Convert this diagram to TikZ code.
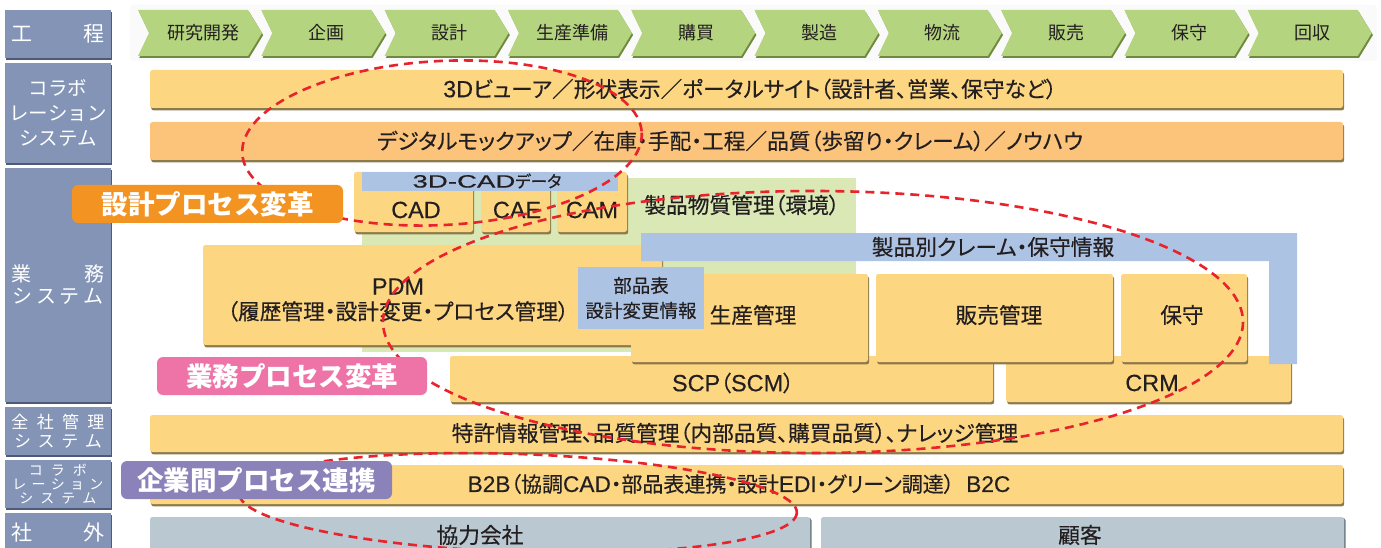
\documentclass[tikz,border=0pt]{standalone}
\usepackage{fontspec}
\setmainfont{Noto Sans CJK JP}
\newfontfamily\bodyfont{Noto Sans CJK JP}[RawFeature=+palt, FakeBold=0.35]
\newfontfamily\lat{Liberation Sans}[FakeBold=0.35, Scale=1.08]
\usetikzlibrary{shadows}
\definecolor{labelblue}{HTML}{8394B6}
\definecolor{labeldark}{HTML}{4E5B78}
\definecolor{chevgreen}{HTML}{B4D47F}
\definecolor{chevdark}{HTML}{6F8A3F}
\definecolor{barA}{HTML}{FDD681}
\definecolor{barB}{HTML}{FBC47A}
\definecolor{boxedge}{HTML}{8C7A4C}
\definecolor{lightblue}{HTML}{ADC3E3}
\definecolor{lightgreen}{HTML}{D9E8B4}
\definecolor{outgrey}{HTML}{B9C8D1}
\definecolor{outedge}{HTML}{6E7C86}
\definecolor{lblorange}{HTML}{F39321}
\definecolor{lblpink}{HTML}{EE74A8}
\definecolor{lblpurple}{HTML}{8B82BA}
\definecolor{ellred}{HTML}{E8232B}
\definecolor{ink}{HTML}{231F20}
\newcommand\La[1]{{\lat #1}}
\tikzset{
  secbox/.style={fill=labelblue, inner sep=0pt, text=white, align=center,
    drop shadow={shadow xshift=0.8pt, shadow yshift=-2pt, fill=labeldark, opacity=1}},
  bar/.style={fill=barA, rounded corners=2.5pt, inner sep=0pt,
    drop shadow={shadow xshift=1.2pt, shadow yshift=-2.4pt, fill=boxedge, opacity=1}},
  outbox/.style={fill=outgrey, rounded corners=2.5pt, inner sep=0pt,
    drop shadow={shadow xshift=1.5pt, shadow yshift=-1pt, fill=outedge, opacity=1}},
  flatblue/.style={fill=lightblue, inner sep=0pt},
  btxt/.style={font=\bodyfont\fontsize{21.7}{25}\selectfont, text=ink, align=center, inner sep=0pt},
  chevtxt/.style={font=\fontsize{18}{20}\selectfont, text=ink, inner sep=0pt},
  chev/.style={fill=chevgreen, drop shadow={shadow xshift=1.2pt, shadow yshift=-2pt, fill=chevdark, opacity=1}},
  tag/.style={rounded corners=6pt, inner sep=0pt, text=white,
    font=\bfseries\fontsize{26.5}{30}\selectfont},
  ell/.style={draw=ellred, line width=2.6pt, dash pattern=on 9pt off 6pt}
}
\begin{document}
\begin{tikzpicture}[x=1pt,y=-1pt]
\useasboundingbox (0,0) rectangle (1381,548);
\fill[white] (0,0) rectangle (1381,548);
% left section labels
\node[secbox, minimum width=106pt, minimum height=48pt, font=\fontsize{21}{24}\selectfont] (sec1) at (58,34) {\makebox[93pt]{工\hfill 程}};
\node[secbox, minimum width=106pt, minimum height=100pt, font=\fontsize{19.5}{25}\selectfont] (sec2) at (58,113) {コラボ\\レーション\\システム};
\node[secbox, minimum width=106pt, minimum height=234pt, font=\fontsize{20}{22}\selectfont] (sec3) at (58,285) {\makebox[93pt]{業\hfill 務}\\\makebox[91pt]{シ\hfill ス\hfill テ\hfill ム}};
\node[secbox, minimum width=106pt, minimum height=48pt, font=\fontsize{17}{19.5}\selectfont] (sec4) at (58,431) {\makebox[93pt]{全\hfill 社\hfill 管\hfill 理}\\\makebox[88pt]{シ\hfill ス\hfill テ\hfill ム}};
\node[secbox, minimum width=106pt, minimum height=48pt, font=\fontsize{14}{14}\selectfont] (sec5) at (58,484) {\makebox[58pt]{コ\hfill ラ\hfill ボ}\\\makebox[91pt]{レ\hfill ー\hfill シ\hfill ョ\hfill ン}\\\makebox[77pt]{シ\hfill ス\hfill テ\hfill ム}};
\node[secbox, minimum width=106pt, minimum height=40pt, font=\fontsize{21}{24}\selectfont] (sec6) at (58,533) {\makebox[93pt]{社\hfill 外}};
% process chevrons
\fill[gray!4, rounded corners=4pt] (130,5) rectangle (1377,61);
\foreach \t [count=\i from 0] in {研究開発,企画,設計,生産準備,購買,製造,物流,販売,保守,回収} {
  \pgfmathsetmacro\L{138+123.3*\i}
  \path[chev] (\L,10) -- (\L+110,10) -- (\L+124,33) -- (\L+110,56) -- (\L,56) -- (\L+11,33) -- cycle;
  \node[chevtxt] (proc\i) at (\L+65,33) {\t};
}
% collaboration rows
\node[bar, minimum width=1193pt, minimum height=38pt] (collab1) at (746.5,89) {};
\node[btxt] (collab1t) at (750,89) {\La{3D}ビューア／形状表示／ポータルサイト（設計者、営業、保守など）};
\node[bar, fill=barB, minimum width=1193pt, minimum height=38pt] (collab2) at (746.5,141) {};
\node[btxt] (collab2t) at (730,141) {デジタルモックアップ／在庫・手配・工程／品質（歩留り・クレーム）／ノウハウ};
% business systems
\node[fill=lightgreen, inner sep=0pt, minimum width=494pt, minimum height=174pt] (env) at (609,265) {};
\node[btxt] (envt) at (742,205) {製品物質管理（環境）};
\node[bar, minimum width=119pt, minimum height=60pt] (cad) at (413.5,202) {};
\node[bar, minimum width=69pt, minimum height=60pt] (cae) at (515.5,202) {};
\node[bar, minimum width=70pt, minimum height=60pt] (cam) at (592,202) {};
\node[flatblue, minimum width=256pt, minimum height=19pt] (cad3d) at (490,181.5) {};
\node[btxt, font=\bodyfont\fontsize{16.5}{18}\selectfont] (cad3dt) at (487,181) {\La{\scalebox{1.55}[1]{3D-CAD}}データ};
\node[btxt] (cadt) at (416,210) {\La{CAD}};
\node[btxt] (caet) at (517,210) {\La{CAE}};
\node[btxt] (camt) at (592,210) {\La{CAM}};
\node[bar, minimum width=459pt, minimum height=100pt] (pdm) at (432.5,295) {};
\node[btxt] (pdmt) at (398,300) {\La{PDM}\\（履歴管理・設計変更・プロセス管理）};
\node[bar, minimum width=543pt, minimum height=46pt] (scp) at (721.5,379) {};
\node[btxt] (scpt) at (733,383) {\La{SCP}（\La{SCM}）};
\node[bar, minimum width=285pt, minimum height=46pt] (crm) at (1148.5,379) {};
\node[btxt] (crmt) at (1152,383) {\La{CRM}};
\node[bar, minimum width=237pt, minimum height=88pt] (prod) at (749.5,318) {};
\node[btxt] (prodt) at (753,315) {生産管理};
\node[bar, minimum width=237pt, minimum height=88pt] (sales) at (994.5,318) {};
\node[btxt] (salest) at (999,315) {販売管理};
\node[bar, minimum width=126pt, minimum height=88pt] (maint) at (1184,318) {};
\node[btxt] (maintt) at (1182,315) {保守};
\fill[lightblue] (641,233) -- (1297,233) -- (1297,364) -- (1269,364) -- (1269,261) -- (641,261) -- cycle;
\node[btxt] (claimt) at (993,247) {製品別クレーム・保守情報};
\node[flatblue, minimum width=126pt, minimum height=62pt] (bom) at (641,298) {};
\node[btxt, font=\bodyfont\fontsize{18.5}{25}\selectfont] (bomt) at (641,298) {部品表\\設計変更情報};
% enterprise management
\node[bar, minimum width=1193pt, minimum height=37pt] (ent) at (746.5,433.5) {};
\node[btxt] (entt) at (735,433) {特許情報管理、品質管理（内部品質、購買品質）、ナレッジ管理};
\node[bar, minimum width=1193pt, minimum height=39pt] (b2b) at (746.5,484.5) {};
\node[btxt, font=\bodyfont\fontsize{21}{25}\selectfont] (b2bt) at (739,484) {\La{B2B}（協調\La{CAD}・部品表連携・設計\La{EDI}・グリーン調達）\hspace{12pt}\La{B2C}};
% outside
\node[outbox, minimum width=660pt, minimum height=48pt] (partner) at (480,541) {};
\node[btxt] (partnert) at (480,535) {協力会社};
\node[outbox, minimum width=523pt, minimum height=48pt] (cust) at (1082.5,541) {};
\node[btxt] (custt) at (1080,535) {顧客};
% dashed ellipses
\draw[ell, rotate around={3:(442,143)}] (442,143) ellipse [x radius=200, y radius=82];
\draw[ell] (813,322) ellipse [x radius=430, y radius=131];
\draw[ell, rotate around={-2:(518,503)}] (518,503) ellipse [x radius=279, y radius=49];
% tags
\node[tag, fill=lblorange, minimum width=271pt, minimum height=38pt] (tagdesign) at (207.5,204) {設計プロセス変革};
\node[tag, fill=lblpink, minimum width=270pt, minimum height=38pt] (tagbiz) at (292,376) {業務プロセス変革};
\node[tag, fill=lblpurple, minimum width=271pt, minimum height=38pt] (taginter) at (256.5,480) {企業間プロセス連携};
\end{tikzpicture}
\end{document}
